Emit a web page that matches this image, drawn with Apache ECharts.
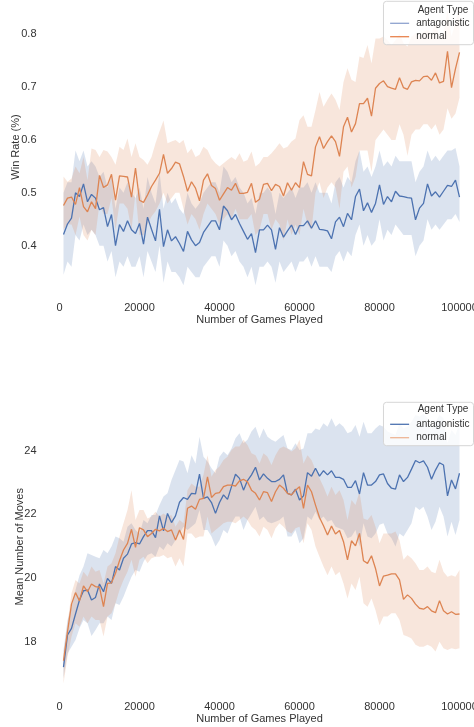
<!DOCTYPE html>
<html>
<head>
<meta charset="utf-8">
<script src="https://cdn.jsdelivr.net/npm/echarts@6/dist/echarts.min.js"></script>
<style>
  html, body { margin: 0; padding: 0; background: #fff; }
  #chart { width: 474px; height: 727px; }
</style>
</head>
<body>
<div id="chart"></div>
<script>
// games played, sampled every 1000 games (1000 .. 100000)
var games = [];
for (var g = 1000; g <= 100000; g += 1000) games.push(g);

var xTicks = [0, 20000, 40000, 60000, 80000, 100000];
var winTicks = [0.4, 0.5, 0.6, 0.7, 0.8];
var moveTicks = [18, 20, 22, 24];

// win rate, antagonistic
var winAnt = [
  0.421,0.441,0.452,0.500,0.493,0.517,0.483,0.497,0.490,0.468,
  0.472,0.436,0.459,0.400,0.440,0.427,0.447,0.430,0.423,0.442,
  0.403,0.454,0.431,0.409,0.469,0.398,0.430,0.409,0.417,0.404,
  0.389,0.427,0.411,0.400,0.406,0.425,0.436,0.447,0.447,0.430,
  0.475,0.466,0.449,0.459,0.442,0.427,0.412,0.423,0.387,0.430,
  0.430,0.439,0.430,0.393,0.434,0.416,0.428,0.439,0.421,0.438,
  0.438,0.447,0.433,0.447,0.431,0.430,0.428,0.413,0.445,0.454,
  0.436,0.461,0.449,0.493,0.507,0.466,0.481,0.463,0.480,0.515,
  0.478,0.493,0.483,0.503,0.494,0.493,0.491,0.490,0.449,0.471,
  0.480,0.517,0.494,0.502,0.492,0.503,0.514,0.512,0.524,0.492
];
var winAntLo = [
  0.345,0.37,0.36,0.42,0.41,0.44,0.42,0.43,0.42,0.40,
  0.40,0.37,0.39,0.34,0.37,0.36,0.38,0.36,0.36,0.38,
  0.34,0.39,0.37,0.35,0.40,0.33,0.37,0.35,0.35,0.34,
  0.325,0.36,0.35,0.34,0.34,0.36,0.37,0.38,0.38,0.36,
  0.41,0.40,0.38,0.39,0.37,0.36,0.34,0.36,0.325,0.36,
  0.36,0.37,0.36,0.33,0.37,0.35,0.36,0.37,0.35,0.37,
  0.37,0.38,0.36,0.38,0.36,0.36,0.36,0.35,0.38,0.39,
  0.37,0.39,0.38,0.42,0.44,0.40,0.42,0.40,0.41,0.45,
  0.41,0.43,0.42,0.44,0.43,0.42,0.42,0.42,0.38,0.40,
  0.41,0.45,0.43,0.44,0.43,0.44,0.45,0.45,0.46,0.445
];
var winAntHi = [
  0.50,0.52,0.52,0.58,0.56,0.58,0.55,0.56,0.55,0.53,
  0.54,0.51,0.53,0.47,0.51,0.50,0.52,0.50,0.49,0.51,
  0.47,0.53,0.50,0.48,0.54,0.47,0.50,0.48,0.49,0.47,
  0.46,0.50,0.48,0.47,0.48,0.50,0.51,0.52,0.52,0.50,
  0.55,0.54,0.52,0.53,0.51,0.50,0.48,0.49,0.46,0.50,
  0.50,0.51,0.50,0.46,0.50,0.49,0.50,0.51,0.49,0.51,
  0.51,0.52,0.50,0.52,0.50,0.50,0.50,0.48,0.52,0.53,
  0.51,0.53,0.52,0.56,0.58,0.54,0.55,0.53,0.55,0.58,
  0.55,0.56,0.55,0.57,0.56,0.56,0.56,0.56,0.52,0.54,
  0.55,0.58,0.56,0.57,0.56,0.57,0.58,0.58,0.585,0.55
];

// win rate, normal
var winNorm = [
  0.476,0.490,0.492,0.478,0.510,0.474,0.464,0.483,0.470,0.533,
  0.510,0.515,0.535,0.486,0.532,0.531,0.530,0.492,0.547,0.486,
  0.482,0.496,0.512,0.524,0.537,0.573,0.537,0.546,0.558,0.555,
  0.531,0.503,0.521,0.509,0.485,0.524,0.536,0.514,0.508,0.486,
  0.498,0.510,0.505,0.518,0.499,0.499,0.501,0.518,0.482,0.488,
  0.516,0.518,0.504,0.516,0.512,0.494,0.519,0.505,0.519,0.510,
  0.559,0.535,0.532,0.587,0.606,0.584,0.597,0.608,0.597,0.569,
  0.625,0.643,0.615,0.631,0.669,0.669,0.679,0.645,0.698,0.707,
  0.712,0.701,0.698,0.696,0.718,0.699,0.696,0.710,0.713,0.712,
  0.720,0.721,0.713,0.727,0.708,0.711,0.768,0.699,0.735,0.766
];
var winNormLo = [
  0.43,0.44,0.44,0.42,0.455,0.42,0.41,0.43,0.42,0.48,
  0.46,0.46,0.49,0.43,0.48,0.48,0.47,0.43,0.50,0.42,
  0.42,0.44,0.455,0.465,0.48,0.50,0.48,0.49,0.50,0.50,
  0.47,0.44,0.46,0.45,0.43,0.46,0.48,0.47,0.46,0.44,
  0.45,0.46,0.45,0.47,0.45,0.45,0.45,0.46,0.42,0.43,
  0.46,0.46,0.43,0.45,0.44,0.41,0.45,0.42,0.44,0.42,
  0.47,0.44,0.43,0.50,0.52,0.49,0.51,0.52,0.51,0.47,
  0.54,0.55,0.51,0.53,0.58,0.58,0.58,0.54,0.60,0.61,
  0.62,0.61,0.60,0.60,0.63,0.61,0.57,0.61,0.62,0.62,
  0.63,0.63,0.62,0.63,0.61,0.62,0.66,0.64,0.65,0.68
];
var winNormHi = [
  0.531,0.521,0.527,0.550,0.537,0.568,0.524,0.584,0.581,0.568,
  0.581,0.578,0.568,0.553,0.587,0.581,0.603,0.568,0.594,0.568,
  0.562,0.553,0.568,0.594,0.616,0.637,0.594,0.597,0.600,0.594,
  0.600,0.575,0.584,0.568,0.572,0.587,0.581,0.565,0.556,0.550,
  0.556,0.562,0.568,0.562,0.575,0.559,0.562,0.578,0.550,0.556,
  0.568,0.568,0.575,0.584,0.594,0.584,0.587,0.597,0.603,0.638,
  0.647,0.625,0.625,0.657,0.691,0.663,0.676,0.688,0.676,0.657,
  0.710,0.736,0.714,0.710,0.758,0.755,0.780,0.745,0.792,0.792,
  0.796,0.789,0.780,0.789,0.802,0.783,0.777,0.796,0.802,0.799,
  0.805,0.808,0.802,0.821,0.796,0.802,0.846,0.796,0.824,0.849
];

// mean number of moves, antagonistic
var movAnt = [
  17.20,18.21,18.42,18.87,19.31,19.60,19.62,19.31,19.39,19.81,
  19.57,19.99,19.83,20.36,20.25,20.62,20.75,21.07,21.11,21.07,
  21.30,21.49,21.49,21.27,21.95,21.48,22.03,21.74,21.95,22.38,
  22.53,22.47,22.66,22.64,23.26,22.50,22.55,22.37,22.03,22.37,
  22.61,22.47,22.87,23.26,23.13,22.76,23.06,23.24,23.48,23.08,
  23.27,23.13,23.03,23.03,23.10,23.24,22.66,22.61,22.79,22.45,
  22.58,23.31,23.20,23.45,23.20,23.37,23.24,23.37,23.16,23.16,
  23.10,22.85,22.85,23.06,22.64,23.31,22.92,22.92,23.03,23.24,
  23.27,22.97,22.82,22.79,23.24,23.03,23.16,23.42,23.69,23.62,
  23.68,23.48,23.10,23.39,23.62,23.55,22.58,23.08,22.80,23.29
];
var movAntLo = [
  16.85,17.63,17.84,18.05,18.42,18.68,18.58,18.18,18.37,18.58,
  18.58,18.79,18.68,19.21,19.15,19.41,19.73,20.04,20.25,20.20,
  20.51,20.72,20.78,20.67,20.99,20.88,21.09,20.99,21.19,21.40,
  21.61,21.51,21.61,21.72,22.14,21.51,21.51,21.30,20.99,21.19,
  21.51,21.40,21.72,21.93,21.93,21.51,21.82,22.03,22.24,21.82,
  21.93,21.77,21.72,21.77,21.82,21.93,21.30,21.30,21.51,21.09,
  21.25,21.93,21.82,22.08,21.82,21.93,21.77,21.82,21.61,21.56,
  21.51,21.25,21.30,21.51,20.99,21.72,21.30,21.25,21.40,21.67,
  21.72,21.40,21.25,20.99,21.40,21.30,21.51,21.72,22.24,22.14,
  22.24,21.93,21.51,21.77,22.24,21.93,21.30,21.77,21.35,21.82
];
var movAntHi = [
  17.74,18.68,19.10,19.62,20.09,20.36,20.78,20.72,20.67,20.62,
  20.88,20.78,20.99,21.30,21.25,21.14,21.61,21.72,21.51,21.40,
  21.82,21.72,21.98,21.98,22.29,22.56,22.66,23.08,23.39,23.71,
  23.66,23.29,23.86,23.60,24.44,23.81,23.66,23.45,23.29,23.81,
  23.97,23.86,24.07,24.39,24.55,24.23,24.34,24.60,24.75,24.39,
  24.70,24.44,24.34,24.28,24.39,24.49,24.07,24.02,24.23,24.02,
  24.07,24.55,24.55,24.70,24.65,24.86,24.75,25.02,24.75,24.86,
  24.75,24.55,24.60,24.81,24.44,24.91,24.55,24.55,24.70,24.81,
  24.75,24.60,24.55,24.49,24.86,24.70,24.75,24.91,25.12,25.07,
  25.17,25.02,24.65,24.91,25.12,25.02,24.23,24.65,24.49,24.86
];

// mean number of moves, normal
var movNorm = [
  17.40,18.31,19.18,19.54,19.28,19.75,19.57,19.81,19.73,19.71,
  19.10,19.83,19.85,20.15,20.54,20.88,21.09,21.53,20.96,21.58,
  21.51,21.30,21.40,21.53,21.48,21.56,21.46,21.51,21.19,21.51,
  21.21,22.19,22.26,22.16,22.47,22.50,23.18,22.53,22.66,22.68,
  22.87,22.92,22.92,22.89,23.05,23.10,23.02,22.76,22.66,22.45,
  22.71,22.68,22.40,22.71,22.92,22.82,22.66,22.61,22.76,22.87,
  22.19,22.92,22.71,22.29,21.90,21.64,21.35,21.63,21.38,21.49,
  21.14,20.57,21.17,21.01,21.40,20.54,20.46,20.70,20.30,19.75,
  20.06,20.09,20.13,20.13,19.94,19.33,19.47,19.36,19.18,19.05,
  19.02,19.10,18.97,18.91,19.29,18.97,18.87,18.94,18.86,18.87
];
var movNormLo = [
  16.69,17.53,18.16,18.58,18.47,18.79,18.58,18.79,18.68,18.68,
  18.16,18.79,18.89,19.21,19.62,19.94,20.20,20.57,20.04,20.57,
  20.67,20.46,20.62,20.67,20.67,20.72,20.62,20.67,20.36,20.62,
  20.36,21.40,21.40,21.25,21.30,21.30,21.93,21.40,21.51,21.61,
  21.72,21.77,21.77,21.72,21.82,21.93,21.82,21.61,21.51,21.30,
  21.61,21.51,21.25,21.56,21.72,21.61,21.46,21.40,21.56,21.61,
  21.09,21.72,21.51,20.99,20.67,20.36,20.09,20.36,20.09,20.20,
  19.83,19.36,19.83,19.62,20.04,19.21,19.10,19.36,18.99,18.52,
  18.79,18.79,18.89,18.89,18.68,18.21,18.16,18.10,17.90,17.84,
  17.84,17.90,17.84,17.69,18.00,17.79,17.74,17.79,17.76,17.79
];
var movNormHi = [
  17.63,18.58,19.52,19.94,19.83,20.20,20.04,20.36,20.20,20.25,
  19.83,20.36,20.46,20.78,21.30,21.72,22.14,22.76,21.82,22.14,
  22.14,21.87,21.93,22.08,21.93,22.03,21.93,21.98,21.61,21.82,
  21.72,22.76,22.97,22.87,22.87,23.24,23.86,23.18,23.39,23.50,
  23.71,23.81,24.02,24.13,24.13,24.34,24.18,23.92,23.86,23.60,
  23.92,23.81,23.55,23.86,24.07,24.13,24.07,23.97,24.07,24.34,
  23.60,23.86,23.71,23.39,23.13,22.87,22.56,22.87,22.61,22.76,
  22.45,21.82,22.45,22.29,22.71,21.87,21.82,21.98,21.61,21.09,
  21.40,21.40,21.40,21.46,21.19,20.57,20.72,20.62,20.46,20.25,
  20.25,20.36,20.20,20.15,20.57,20.20,20.04,20.09,20.04,20.25
];

var BLUE = '#4c72b0';
var ORANGE = '#dd8452';
var FONT = '"Liberation Sans", Arial, sans-serif';
var TXT = '#333';

function pairs(ys) {
  return games.map(function (x, i) { return [x, ys[i]]; });
}

// confidence band as one polygon, placed through the axes
function band(idx, lo, hi, color) {
  return {
    type: 'custom',
    xAxisIndex: idx,
    yAxisIndex: idx,
    silent: true,
    z: 1,
    data: games.map(function (x, i) { return [x, lo[i], hi[i]]; }),
    encode: { x: 0, y: [1, 2] },
    renderItem: function (params, api) {
      if (params.dataIndex !== 0) return null;
      var pts = [];
      for (var i = 0; i < games.length; i++) pts.push(api.coord([games[i], hi[i]]));
      for (var j = games.length - 1; j >= 0; j--) pts.push(api.coord([games[j], lo[j]]));
      return {
        type: 'polygon',
        shape: { points: pts },
        style: { fill: color, opacity: 0.2 }
      };
    }
  };
}

function line(idx, name, ys, color) {
  return {
    type: 'line',
    name: name,
    xAxisIndex: idx,
    yAxisIndex: idx,
    data: pairs(ys),
    symbol: 'none',
    showSymbol: false,
    z: 3,
    lineStyle: { width: 1.3, color: color },
    itemStyle: { color: color }
  };
}

function xAxis(idx) {
  return {
    type: 'value',
    gridIndex: idx,
    min: 0,
    max: 100000,
    name: 'Number of Games Played',
    nameLocation: 'middle',
    nameGap: 20.5,
    nameMoveOverlap: false,
    nameTextStyle: { fontFamily: FONT, fontSize: 11, color: TXT },
    axisLine: { show: false },
    axisTick: { show: false },
    splitLine: { show: false },
    axisLabel: {
      customValues: xTicks,
      margin: 8.5,
      formatter: function (v) { return String(v); },
      fontFamily: FONT, fontSize: 11, color: TXT
    }
  };
}

function yAxis(idx, name, min, max, ticks, gap, fmt) {
  return {
    type: 'value',
    gridIndex: idx,
    min: min,
    max: max,
    name: name,
    nameLocation: 'middle',
    nameGap: gap,
    nameMoveOverlap: false,
    nameTextStyle: { fontFamily: FONT, fontSize: 11, color: TXT },
    axisLine: { show: false },
    axisTick: { show: false },
    splitLine: { show: false },
    axisLabel: {
      customValues: ticks,
      margin: 23,
      formatter: fmt,
      fontFamily: FONT, fontSize: 11, color: TXT
    }
  };
}

function legend(top, antColor, normColor) {
  return {
    orient: 'vertical',
    right: 0.5,
    top: top,
    padding: [17, 4, 3, 6],
    itemWidth: 19,
    itemHeight: 10,
    itemGap: 3.4,
    backgroundColor: 'rgba(255,255,255,0.8)',
    borderColor: '#d6d6d6',
    borderWidth: 1,
    borderRadius: 3,
    selectedMode: false,
    textStyle: { fontFamily: FONT, fontSize: 10, color: TXT, padding: [0, 0, 0, 2] },
    data: [
      { name: 'antagonistic', lineStyle: { color: antColor, width: 1.3 }, itemStyle: { color: antColor, opacity: 0 } },
      { name: 'normal', lineStyle: { color: normColor, width: 1.3 }, itemStyle: { color: normColor, opacity: 0 } }
    ]
  };
}

var chart = echarts.init(document.getElementById('chart'), null, { renderer: 'canvas' });

chart.setOption({
  animation: false,
  backgroundColor: '#fff',
  grid: [
    { left: 59.5, right: 14.5, top: 0, height: 294, outerBoundsMode: 'none', containLabel: false },
    { left: 59.5, right: 14.5, top: 400.4, height: 292.6, outerBoundsMode: 'none', containLabel: false }
  ],
  xAxis: [xAxis(0), xAxis(1)],
  yAxis: [
    yAxis(0, 'Win Rate (%)', 0.3085, 0.865, winTicks, 38.5,
      function (v) { return v.toFixed(1); }),
    yAxis(1, 'Mean Number of Moves', 16.388, 25.579, moveTicks, 34.5,
      function (v) { return String(v); })
  ],
  legend: [
    legend(1.3, '#8fa3cf', '#e8834e'),
    legend(402.3, BLUE, '#eeb595')
  ],
  graphic: [
    { type: 'text', x: 443, y: 10, z: 100,
      style: { text: 'Agent Type', fontFamily: FONT, fontSize: 10, fill: TXT,
               textAlign: 'center', textVerticalAlign: 'middle' } },
    { type: 'text', x: 443, y: 409.3, z: 100,
      style: { text: 'Agent Type', fontFamily: FONT, fontSize: 10, fill: TXT,
               textAlign: 'center', textVerticalAlign: 'middle' } }
  ],
  series: [
    band(0, winAntLo, winAntHi, BLUE),
    band(0, winNormLo, winNormHi, ORANGE),
    line(0, 'antagonistic', winAnt, BLUE),
    line(0, 'normal', winNorm, ORANGE),
    band(1, movAntLo, movAntHi, BLUE),
    band(1, movNormLo, movNormHi, ORANGE),
    line(1, 'antagonistic', movAnt, BLUE),
    line(1, 'normal', movNorm, ORANGE)
  ]
});
</script>
</body>
</html>
